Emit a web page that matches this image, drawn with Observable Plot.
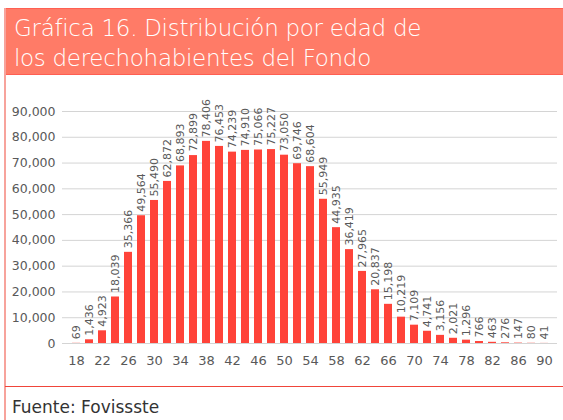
<!DOCTYPE html>
<html>
<head>
<meta charset="utf-8">
<script src="https://cdn.jsdelivr.net/npm/d3@7"></script>
<script src="https://cdn.jsdelivr.net/npm/@observablehq/plot@0.6"></script>
<style>
  html, body { margin: 0; padding: 0; background: #fff; }
  #wrap { position: relative; width: 563px; height: 420px; overflow: hidden; font-family: "DejaVu Sans", sans-serif; }
  #frameLeft { position: absolute; left: 4px; top: 8px; width: 2px; height: 412px; background: #F7A39C; }
  #header { position: absolute; left: 4px; top: 8px; width: 570px; height: 67px; background: #FF7B67; border-top: 1px solid #FF5F52; border-bottom: 1px solid #FF5F52; box-sizing: border-box; }
  #title { position: absolute; left: 14px; top: 13px; color: #fff; font-size: 23px; line-height: 30px; font-weight: 300; letter-spacing: -0.3px; white-space: nowrap; }
  #chart { position: absolute; left: 0; top: 90px; }
  #bottomLine { position: absolute; left: 5px; top: 386px; width: 560px; height: 1px; background: #F0453A; }
  #caption { position: absolute; left: 12px; top: 397px; font-size: 17px; color: #333; }
</style>
</head>
<body>
<div id="wrap">
  <div id="header"></div>
  <div id="frameLeft"></div>
  <div id="title">Gráfica 16. Distribución por edad de<br>los derechohabientes del Fondo</div>
  <div id="chart"></div>
  <div id="bottomLine"></div>
  <div id="caption">Fuente: Fovissste</div>
</div>
<script>
const ages = [18,20,22,24,26,28,30,32,34,36,38,40,42,44,46,48,50,52,54,56,58,60,62,64,66,68,70,72,74,76,78,80,82,84,86,88,90];
const counts = [69,1436,4923,18039,35366,49564,55490,62872,68893,72899,78406,76453,74239,74910,75066,75227,73050,69746,68604,55949,44935,36419,27965,20837,15198,10219,7109,4741,3156,2021,1296,766,463,276,147,80,41];
const xTickLabels = [18,22,26,30,34,38,42,46,50,54,58,62,66,70,74,78,82,86,90];
const yTicks = [0,10000,20000,30000,40000,50000,60000,70000,80000,90000];

const data = ages.map((a, i) => ({age: a, n: counts[i]}));
const fmt = d3.format(",");

const chart = Plot.plot({
  width: 563,
  height: 285,
  marginTop: 21,
  marginBottom: 32,
  marginLeft: 62,
  marginRight: 6,
  style: { fontFamily: "DejaVu Sans, sans-serif", fontSize: "12px", color: "#595959", background: "transparent" },
  x: { type: "band", domain: ages, paddingInner: 0.4, paddingOuter: 0.2, label: null },
  y: { domain: [0, 90000], label: null },
  marks: [
    Plot.gridY(yTicks, { stroke: "#D4D4D4", strokeOpacity: 1, strokeWidth: 1 }),
    Plot.barY(data, { x: "age", y: "n", fill: "#FF4339" }),
    Plot.text(data, { x: "age", y: "n", text: d => fmt(d.n), rotate: -90, textAnchor: "start", lineAnchor: "middle", dy: -4, fill: "#595959", fontSize: 11 }),
    Plot.axisY({ ticks: yTicks, tickFormat: fmt, tickSize: 0, tickPadding: 7, fontSize: 12.5, fill: "#595959", label: null }),
    Plot.axisX({ ticks: xTickLabels, tickSize: 0, tickPadding: 12, fontSize: 13, fill: "#595959", label: null })
  ]
});
document.getElementById("chart").appendChild(chart);
</script>
</body>
</html>
